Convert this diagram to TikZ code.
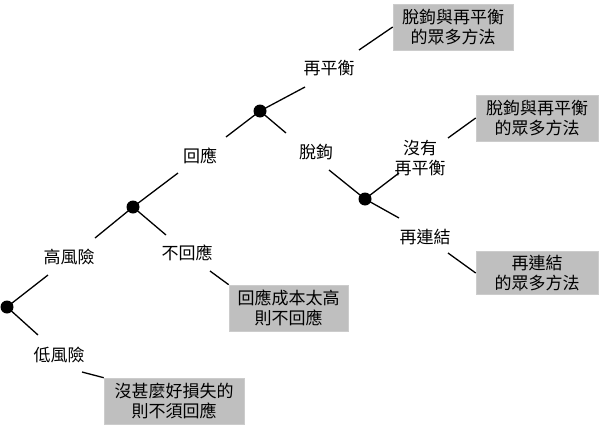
\documentclass[tikz,border=0pt]{standalone}
\usepackage{fontspec}
\newfontfamily\cjk{Noto Sans CJK TC}
\begin{document}
\begin{tikzpicture}[x=1pt,y=-1pt,
  lbl/.style={font=\cjk\fontsize{17}{20.5}\selectfont, align=center, inner sep=0pt},
  gbox/.style={font=\cjk\fontsize{17}{20.5}\selectfont, align=center, fill=black!25, draw=black!20, line width=0.6pt, inner sep=0pt},
  dot/.style={circle, fill=black, minimum size=13pt, inner sep=0pt},
  ln/.style={line width=1.3pt}]
\useasboundingbox (0,0) rectangle (600,434);
% dots
\node[dot] (d1) at (7,307) {};
\node[dot] (d2) at (133,207) {};
\node[dot] (d3) at (260,111) {};
\node[dot] (d4) at (365,199) {};
% labels
\node[lbl] (hi) at (69,257) {高風險};
\node[lbl] (lo) at (59,355) {低風險};
\node[lbl] (resp) at (200,156) {回應};
\node[lbl] (noresp) at (187,253) {不回應};
\node[lbl] (rebal) at (329,68) {再平衡};
\node[lbl] (decoup) at (316,152) {脫鉤};
\node[lbl] (norebal) at (420,158) {沒有\\再平衡};
\node[lbl] (relink) at (425,237) {再連結};
% boxes
\node[gbox, minimum width=120pt, minimum height=46pt] (b1) at (453,27) {脫鉤與再平衡\\的眾多方法};
\node[gbox, minimum width=119pt, minimum height=46pt] (b2) at (288.5,308) {回應成本太高\\則不回應};
\node[gbox, minimum width=140pt, minimum height=46pt] (b3) at (174,401) {沒甚麼好損失的\\則不須回應};
\node[gbox, minimum width=122pt, minimum height=46pt] (b4) at (537,118) {脫鉤與再平衡\\的眾多方法};
\node[gbox, minimum width=122pt, minimum height=43pt] (b5) at (537,273) {再連結\\的眾多方法};
% connector ends
\coordinate (e1) at (48,275);
\coordinate (e2) at (95,238);
\coordinate (e3) at (38,335);
\coordinate (e4) at (82,372);
\coordinate (e5) at (178,173);
\coordinate (e6) at (226,137);
\coordinate (e7) at (166,235);
\coordinate (e8) at (210,271);
\coordinate (e9) at (305,87);
\coordinate (e10) at (359,50);
\coordinate (e11) at (286,133);
\coordinate (e12) at (329,170);
\coordinate (e13) at (399,173);
\coordinate (e14) at (448,138);
\coordinate (e15) at (399,218);
\coordinate (e16) at (448,253);
% connectors
\draw[ln] (d1.center) -- (e1);
\draw[ln] (e2) -- (d2.center);
\draw[ln] (d1.center) -- (e3);
\draw[ln] (e4) -- (b3.north west);
\draw[ln] (d2.center) -- (e5);
\draw[ln] (e6) -- (d3.center);
\draw[ln] (d2.center) -- (e7);
\draw[ln] (e8) -- (b2.north west);
\draw[ln] (d3.center) -- (e9);
\draw[ln] (e10) -- (b1.west);
\draw[ln] (d3.center) -- (e11);
\draw[ln] (e12) -- (d4.center);
\draw[ln] (d4.center) -- (e13);
\draw[ln] (e14) -- (b4.west);
\draw[ln] (d4.center) -- (e15);
\draw[ln] (e16) -- (b5.west);
\end{tikzpicture}
\end{document}
